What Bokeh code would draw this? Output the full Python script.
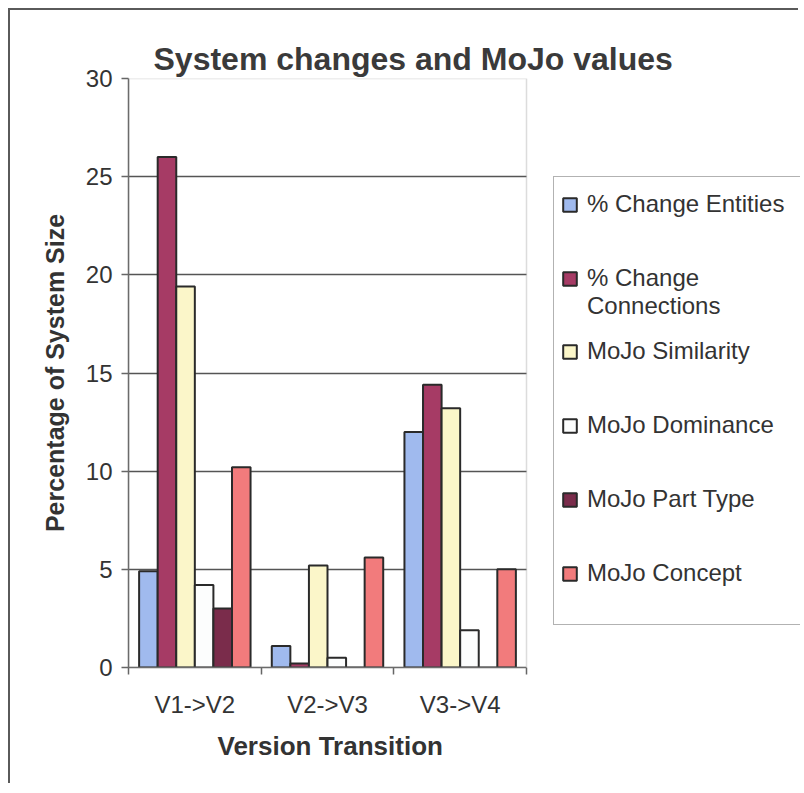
from bokeh.plotting import figure
from bokeh.models import (ColumnDataSource, Range1d, FixedTicker, SingleIntervalTicker,
                          Legend, LegendItem, BoxAnnotation, Title)
from bokeh.transform import dodge
from bokeh.embed import file_html
from bokeh.resources import INLINE

# ---------------- data ----------------
categories = ["V1->V2", "V2->V3", "V3->V4"]
series_names = ["% Change Entities", "% Change Connections", "MoJo Similarity",
                "MoJo Dominance", "MoJo Part Type", "MoJo Concept"]
change_entities = [4.9, 1.1, 12.0]
change_connections = [26.0, 0.2, 14.4]
mojo_similarity = [19.4, 5.2, 13.2]
mojo_dominance = [4.2, 0.5, 1.9]
mojo_part_type = [3.0, 0.0, 0.0]
mojo_concept = [10.2, 5.6, 5.0]
y_max = 30
y_step = 5

colors = ["#A0BAEE", "#A63B65", "#FBF6C9", "#FCFDFD", "#7A2C4B", "#F27B7C"]

FONT = "Liberation Sans"
TXT = "#333333"
EDGE = "#2a2a2a"

n = len(categories)
src = ColumnDataSource(dict(
    x=[i + 0.5 for i in range(n)],
    s0=change_entities, s1=change_connections, s2=mojo_similarity,
    s3=mojo_dominance, s4=mojo_part_type, s5=mojo_concept,
))

# layout (pixels)
W, H = 790, 775
LEFT, TOP = 118, 68
FRAME_H = 589
PLOT_W = 398                      # width of the plot area that holds the bars
FRAME_W = W - LEFT                # frame runs to the right edge (legend lives in it)
x_end = n * FRAME_W / PLOT_W

p = figure(width=W, height=H, x_range=Range1d(0, x_end), y_range=Range1d(0, y_max),
           output_backend="svg", toolbar_location=None,
           min_border_left=LEFT, min_border_right=0, min_border_top=TOP,
           min_border_bottom=H - TOP - FRAME_H,
           background_fill_color="white", border_fill_color="white",
           styles={"margin-left": "8px", "margin-top": "8px",
                   "border-top": "2px solid #5a5a5a", "border-left": "2px solid #5a5a5a"})
p.outline_line_color = None

# title
p.title.text = "System changes and MoJo values"
p.title.align = "left"
p.title.offset = 25
p.title.standoff = 4
p.title.text_font = FONT
p.title.text_font_size = "32px"
p.title.text_font_style = "bold"
p.title.text_color = "#3a3a3a"

bw = 0.14
renderers = []
for i, col in enumerate(colors):
    r = p.vbar(x=dodge("x", (i - 2.5) * bw, range=p.x_range), top="s%d" % i, width=bw,
               source=src, fill_color=col, line_color=EDGE, line_width=2)
    renderers.append(r)

# axes
p.xaxis.bounds = (0, n)
p.xaxis.ticker = FixedTicker(ticks=[i + 0.5 for i in range(n)],
                             minor_ticks=list(range(n + 1)))
p.xaxis.major_label_overrides = {i + 0.5: c for i, c in enumerate(categories)}
p.xaxis.major_tick_out = 6
p.xaxis.minor_tick_out = 7
p.xaxis.minor_tick_in = 0
p.xaxis.minor_tick_line_color = "#666666"
p.xaxis.minor_tick_line_width = 1.5
p.xaxis.major_label_standoff = 16

p.yaxis.ticker = SingleIntervalTicker(interval=y_step)
p.yaxis.minor_tick_line_color = None
p.yaxis.major_tick_out = 7
p.yaxis.major_tick_in = 0
p.yaxis.major_label_standoff = 9
p.yaxis.axis_label = "Percentage of System Size"
p.yaxis.axis_label_standoff = 14

for ax in (p.xaxis[0], p.yaxis[0]):
    ax.axis_line_color = "#666666"
    ax.axis_line_width = 1.5
    ax.major_tick_line_width = 1.5
    ax.major_label_text_font = FONT
    ax.major_label_text_font_size = "24px"
    ax.major_label_text_color = TXT
    ax.axis_label_text_font = FONT
    ax.axis_label_text_font_size = "25px"
    ax.axis_label_text_font_style = "bold"
    ax.axis_label_text_color = TXT
p.xaxis.major_tick_line_color = None
p.yaxis.major_tick_line_color = "#666666"

# x-axis title, centred under the plot area (which is narrower than the frame)
p.add_layout(Title(text="Version Transition", align="left", offset=89, standoff=17,
                   text_font=FONT, text_font_size="26px", text_font_style="bold",
                   text_color=TXT), "below")

p.xgrid.grid_line_color = None
p.ygrid.grid_line_color = "#555555"
p.ygrid.grid_line_width = 1.5

# area right of the plot area: white (hides grid there); plot-area border
p.add_layout(BoxAnnotation(left=n, fill_color="white", fill_alpha=1, line_alpha=0))
p.add_layout(BoxAnnotation(left=0, right=n, bottom=0, top=y_max, fill_alpha=0,
                           line_color="#8a8a8a", line_width=1.5))

# ---------------- legend ----------------
dummy = p.vbar(x=[], top=[], width=0.1, fill_alpha=0, line_alpha=0)
frame_leg = Legend(items=[LegendItem(label=" ", renderers=[dummy])], location=(425, 42),
                   padding=0, margin=0, glyph_width=1, glyph_height=1, label_standoff=0,
                   label_width=330, label_height=447, label_text_alpha=0,
                   border_line_color="#666666", border_line_width=1.5,
                   background_fill_color="white", background_fill_alpha=1)
p.add_layout(frame_leg)


def make_leg(items, loc, spacing=0):
    return Legend(items=[LegendItem(label=lab, renderers=[r]) for lab, r in items],
                  location=loc, padding=0, margin=0, spacing=spacing,
                  glyph_width=17, glyph_height=17, label_standoff=9,
                  label_text_font=FONT, label_text_font_size="24px", label_text_color=TXT,
                  border_line_alpha=0, background_fill_alpha=0)


conn_first, conn_second = series_names[1].split(" ", 1)[0] + " " + series_names[1].split(" ")[1], \
    series_names[1].split(" ")[2]
p.add_layout(make_leg([(series_names[0], renderers[0])], (433, 449)))
p.add_layout(make_leg([(conn_first, renderers[1])], (433, 375)))
p.add_layout(make_leg([(conn_second, dummy)], (433, 347)))
p.add_layout(make_leg([(series_names[i], renderers[i]) for i in (2, 3, 4, 5)], (433, 80), spacing=46))

open("out.html", "w").write(file_html(p, INLINE))
